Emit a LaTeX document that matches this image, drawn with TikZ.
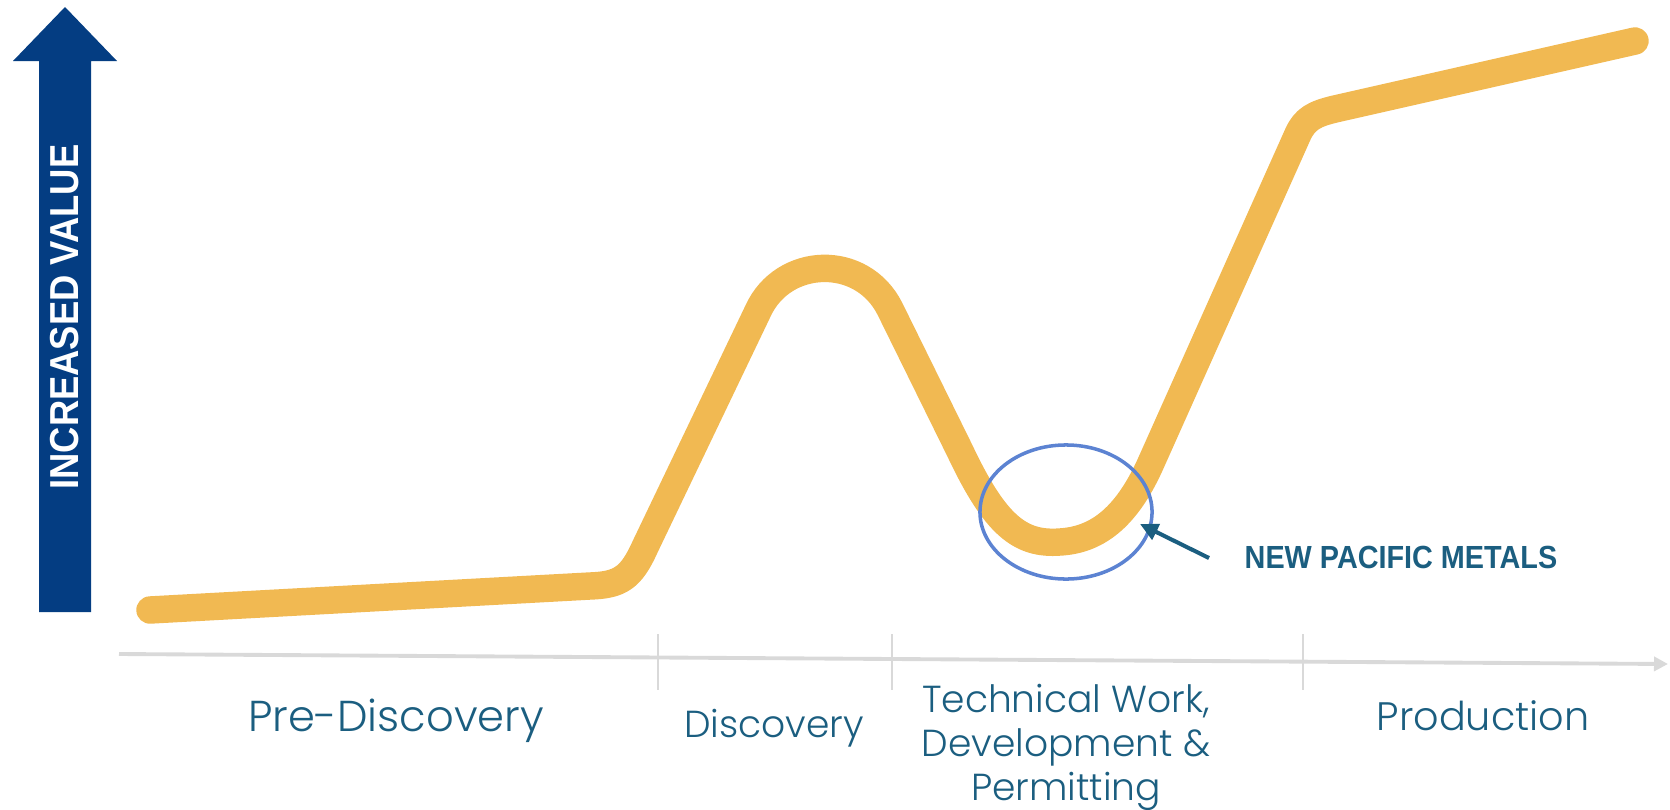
\documentclass[tikz,border=0pt]{standalone}
\usepackage{fontspec}
\setmainfont{Liberation Sans}
\newfontfamily\capsfont{Liberation Sans}[FakeStretch=0.9]
\newfontfamily\stagefont{Poppins Light}
\usetikzlibrary{arrows.meta,shapes.geometric}
\definecolor{valueblue}{RGB}{4,61,130}
\definecolor{curveorange}{RGB}{241,185,82}
\definecolor{ringblue}{RGB}{92,131,210}
\definecolor{labelteal}{RGB}{27,94,128}
\definecolor{axisgray}{RGB}{217,217,217}
\tikzset{
  stage/.style={text=labelteal, inner sep=0pt, anchor=base},
  tickline/.style={axisgray, line width=0.8pt},
}
\begin{document}
\begin{tikzpicture}[x=0.01cm,y=-0.01cm]
  \useasboundingbox (0,0) rectangle (1670,809);
  \fill[valueblue] (39,612) -- (39,61) -- (13,61) -- (65,7) -- (117,61) -- (91,61) -- (91,612) -- cycle;
  \node[rotate=90, text=white, font=\capsfont\bfseries\fontsize{11.5}{11.5}\selectfont, inner sep=0pt] (value) at (65,317) {INCREASED VALUE};

  \coordinate (a0) at (119,654);
  \coordinate (a1) at (1668,664);
  \draw[axisgray, line width=1.1pt, -{Triangle[length=0.14cm, width=0.14cm]}] (a0) -- (a1);
  \foreach \x in {658,892,1303}
    \draw[tickline] (\x,634) -- (\x,690);

  \draw[curveorange, line width=7.8pt, line cap=round, line join=round]
    (150,610) -- (590,586) .. controls (620,585) and (631,578) .. (645,547)
    -- (758,311) .. controls (783,256) and (862,253) .. (890,309)
    -- (960,451) .. controls (995,525) and (1020,545) .. (1060,542)
    .. controls (1095,540) and (1125,520) .. (1150,465)
    -- (1298,134) .. controls (1305,119) and (1314,114) .. (1335,109)
    -- (1635,41);

  \node[draw=ringblue, line width=1pt, ellipse, minimum width=1.72cm, minimum height=1.34cm, inner sep=0pt] (ring) at (1066,512) {};
  \node[anchor=base west, text=labelteal, font=\capsfont\bfseries\fontsize{9.1}{9.1}\selectfont, inner sep=0pt] (npm) at (1244,568) {NEW PACIFIC METALS};
  \coordinate (tail) at (1209,558);
  \coordinate (tip) at (1140,524);
  \draw[labelteal, line width=1.15pt, -{Triangle[length=0.18cm, width=0.17cm]}] (tail) -- (tip);

  \node[stage, font=\stagefont\fontsize{12.3}{12.3}\selectfont] (pre) at (396,731) {Pre-Discovery};
  \node[stage, font=\stagefont\fontsize{10.7}{10.7}\selectfont] (disc) at (774,737) {Discovery};
  \node[stage, font=\stagefont\fontsize{10.7}{12.5}\selectfont, align=center] (tech) at (1066,800) {Technical Work,\\Development \&\\Permitting};
  \node[stage, font=\stagefont\fontsize{11.3}{11.3}\selectfont] (prod) at (1483,730) {Production};
\end{tikzpicture}
\end{document}
